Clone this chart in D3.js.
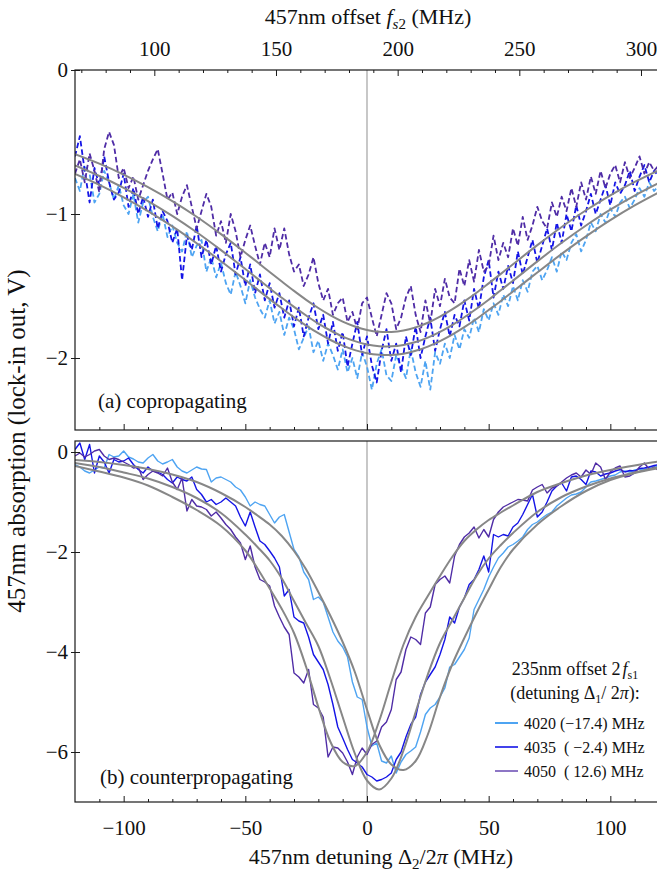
<!DOCTYPE html>
<html>
<head>
<meta charset="utf-8">
<script src="https://cdn.jsdelivr.net/npm/d3@7"></script>
<style>
  body { margin: 0; background: #fff; }
  svg { display: block; font-family: "Liberation Serif", "Times New Roman", serif; }
</style>
</head>
<body>
<svg id="chart" width="657" height="871"></svg>
<script>
// ---- data -------------------------------------------------------------
// detuning grid of the lock-in scans (MHz), -120 ... 120 in 2 MHz steps
const detuning = d3.range(-120, 121, 2);

// (a) copropagating scans, lock-in output (V)
const coproLight = [
  -0.75,-0.84,-0.66,-0.72,-0.92,-0.86,-0.7,-0.78,-0.9,-0.8,
  -0.94,-1.0,-0.86,-1.06,-0.92,-0.88,-1.02,-1.12,-1.0,-1.16,
  -1.08,-1.2,-1.26,-1.12,-1.3,-1.22,-1.18,-1.4,-1.3,-1.44,
  -1.34,-1.48,-1.56,-1.4,-1.5,-1.62,-1.46,-1.58,-1.66,-1.72,
  -1.6,-1.76,-1.68,-1.84,-1.72,-1.8,-1.94,-1.86,-1.78,-1.96,
  -1.88,-2.02,-1.9,-1.98,-2.08,-1.94,-2.1,-2.0,-2.14,-1.96,
  -2.06,-2.22,-2.04,-1.94,-2.12,-2.16,-1.98,-2.06,-2.14,-1.94,
  -2.1,-2.2,-2.02,-2.22,-1.96,-2.04,-1.9,-2.0,-1.84,-1.94,
  -1.8,-1.86,-1.72,-1.82,-1.66,-1.74,-1.62,-1.7,-1.56,-1.64,
  -1.5,-1.6,-1.46,-1.54,-1.4,-1.36,-1.46,-1.39,-1.3,-1.4,
  -1.26,-1.32,-1.2,-1.14,-1.26,-1.18,-1.06,-1.12,-1.0,-1.06,
  -0.96,-1.02,-0.92,-0.88,-0.96,-0.9,-0.82,-0.88,-0.78,-0.84,
  -0.8
];
const coproBlue = [
  -0.6,-0.46,-0.7,-0.92,-0.68,-0.8,-0.6,-0.78,-0.9,-0.85,
  -0.72,-0.95,-0.82,-1.0,-0.88,-1.02,-0.9,-1.1,-0.98,-1.05,
  -1.2,-1.1,-1.46,-1.15,-1.25,-1.08,-1.3,-1.18,-1.35,-1.22,
  -1.4,-1.28,-1.2,-1.42,-1.3,-1.5,-1.35,-1.55,-1.42,-1.6,
  -1.48,-1.65,-1.55,-1.72,-1.6,-1.78,-1.65,-1.85,-1.72,-1.62,
  -1.8,-1.7,-1.9,-1.75,-1.95,-1.82,-2.06,-1.9,-1.75,-1.98,
  -1.85,-2.05,-2.17,-1.95,-1.8,-2.02,-1.9,-2.1,-1.85,-1.98,
  -1.78,-2.0,-1.85,-1.72,-1.95,-1.8,-1.68,-1.85,-1.7,-1.78,
  -1.6,-1.74,-1.52,-1.66,-1.44,-1.32,-1.58,-1.4,-1.52,-1.36,
  -1.48,-1.26,-1.42,-1.3,-1.18,-1.34,-1.22,-1.1,-1.25,-1.06,
  -1.2,-1.0,-1.12,-0.94,-1.08,-0.98,-0.86,-1.0,-0.9,-0.8,
  -0.94,-0.78,-0.86,-0.8,-0.7,-0.84,-0.74,-0.66,-0.78,-0.7,
  -0.74
];
const coproPurple = [
  -0.72,-0.62,-0.78,-0.58,-0.7,-0.85,-0.55,-0.43,-0.52,-0.75,
  -0.68,-0.82,-0.74,-0.9,-0.8,-0.7,-0.62,-0.55,-0.72,-0.9,
  -0.85,-1.0,-0.88,-0.8,-0.95,-1.1,-0.98,-0.86,-0.95,-1.15,
  -1.05,-1.2,-1.0,-1.12,-1.3,-1.18,-1.08,-1.22,-1.35,-1.2,
  -1.3,-1.1,-1.25,-1.1,-1.28,-1.4,-1.35,-1.5,-1.42,-1.3,
  -1.48,-1.6,-1.52,-1.7,-1.62,-1.58,-1.75,-1.68,-1.8,-1.62,
  -1.58,-1.72,-1.85,-1.7,-1.55,-1.62,-1.8,-1.72,-1.58,-1.5,
  -1.7,-1.82,-1.6,-1.76,-1.52,-1.64,-1.45,-1.58,-1.62,-1.38,
  -1.5,-1.32,-1.47,-1.25,-1.4,-1.36,-1.15,-1.32,-1.2,-1.3,
  -1.1,-1.22,-1.02,-1.18,-1.08,-0.95,-1.05,-1.1,-0.92,-1.02,
  -0.88,-0.98,-0.82,-0.95,-0.78,-0.9,-0.74,-0.86,-0.7,-0.82,
  -0.72,-0.66,-0.78,-0.64,-0.75,-0.68,-0.6,-0.72,-0.64,-0.7,
  -0.66
];

// (b) counterpropagating scans, lock-in output (V)
const counterLight = [
  -0.25,-0.3,-0.38,-0.42,-0.36,-0.3,-0.32,-0.05,-0.1,-0.08,
  0.02,-0.1,-0.14,-0.2,-0.22,-0.12,-0.05,-0.18,-0.24,-0.2,
  -0.15,-0.3,-0.38,-0.42,-0.36,-0.3,-0.34,-0.35,-0.6,-0.52,
  -0.5,-0.55,-0.6,-0.7,-0.76,-0.9,-1.08,-1.0,-1.05,-1.08,
  -1.25,-1.42,-1.3,-1.25,-1.6,-1.95,-2.1,-2.4,-2.55,-2.95,
  -2.9,-3.0,-3.3,-3.6,-3.78,-3.9,-4.1,-4.6,-4.9,-4.95,
  -5.5,-5.88,-5.82,-6.18,-6.22,-6.08,-6.42,-6.2,-6.05,-5.98,
  -5.9,-5.6,-5.25,-5.12,-5.05,-4.9,-4.72,-4.3,-4.25,-4.1,
  -3.95,-3.72,-3.15,-2.95,-2.75,-2.5,-2.3,-2.12,-2.02,-1.9,
  -1.85,-1.78,-1.7,-1.55,-1.45,-1.4,-1.32,-1.25,-1.2,-1.08,
  -1.0,-0.92,-0.86,-0.84,-0.8,-0.7,-0.6,-0.58,-0.55,-0.52,
  -0.48,-0.46,-0.4,-0.38,-0.4,-0.36,-0.34,-0.35,-0.3,-0.3,
  -0.28
];
const counterBlue = [
  0.05,0.18,-0.15,0.15,-0.42,-0.08,-0.2,-0.42,-0.15,-0.2,
  -0.18,-0.12,-0.25,-0.35,-0.42,-0.3,-0.38,-0.4,-0.45,-0.55,
  -0.62,-0.5,-0.55,-0.58,-0.5,-0.75,-0.85,-1.0,-0.95,-1.05,
  -1.0,-0.92,-1.0,-1.08,-1.3,-1.48,-1.2,-1.5,-1.78,-1.85,
  -1.98,-2.12,-2.3,-2.88,-2.75,-3.3,-3.38,-3.42,-3.7,-4.05,
  -4.2,-4.35,-4.65,-5.05,-5.5,-5.72,-5.95,-6.15,-6.22,-6.3,
  -6.45,-6.5,-6.58,-6.55,-6.5,-6.42,-6.15,-6.0,-5.7,-5.45,
  -5.3,-4.85,-4.6,-4.45,-4.3,-4.05,-3.75,-3.3,-3.42,-3.1,
  -2.92,-2.65,-2.55,-2.35,-2.08,-2.4,-1.65,-1.7,-1.65,-1.68,
  -1.5,-1.42,-1.25,-1.05,-0.85,-1.3,-1.2,-1.0,-0.78,-0.68,
  -0.62,-0.78,-0.5,-0.48,-0.55,-0.65,-0.38,-0.4,-0.48,-0.44,
  -0.42,-0.38,-0.35,-0.4,-0.37,-0.38,-0.33,-0.32,-0.3,-0.27,
  -0.25
];
const counterPurple = [
  -0.08,-0.02,-0.1,-0.05,0.02,0.05,-0.08,-0.15,-0.12,-0.15,
  -0.2,-0.25,-0.32,-0.3,-0.55,-0.45,-0.38,-0.42,-0.48,-0.32,
  -0.6,-0.75,-0.52,-1.18,-0.95,-1.08,-1.1,-1.15,-1.28,-1.2,
  -1.32,-1.45,-1.55,-1.7,-1.82,-2.15,-1.88,-2.3,-2.55,-2.6,
  -2.68,-3.08,-3.3,-3.5,-3.65,-4.42,-4.5,-4.62,-4.35,-5.05,
  -5.12,-5.3,-6.1,-5.9,-5.92,-6.02,-6.2,-6.45,-6.1,-5.92,
  -6.05,-5.85,-5.78,-5.5,-5.4,-5.15,-4.55,-4.4,-3.95,-3.7,
  -3.75,-3.85,-3.22,-3.1,-2.65,-2.55,-2.48,-2.62,-2.08,-1.85,
  -1.7,-1.62,-1.5,-1.72,-1.55,-1.7,-1.35,-1.2,-1.1,-1.05,
  -1.0,-0.95,-0.96,-0.98,-0.76,-0.7,-0.65,-0.82,-0.72,-0.68,
  -0.6,-0.52,-0.46,-0.42,-0.5,-0.36,-0.45,-0.22,-0.3,-0.55,
  -0.4,-0.32,-0.28,-0.5,-0.48,-0.42,-0.3,-0.22,-0.35,-0.3,
  -0.38
];

// fitted line shapes, tabulated on a coarser detuning grid (MHz)
const fitDetuning = [-120,-110,-100,-90,-80,-70,-60,-50,-45,-40,-35,-30,-25,-20,-15,-10,-5,0,
                     5,10,15,20,25,30,35,40,45,50,55,60,70,80,90,100,110,120];
const coproFitUpper = [-0.584,-0.650,-0.726,-0.813,-0.910,-1.019,-1.140,-1.269,-1.335,-1.403,-1.469,-1.534,
  -1.596,-1.653,-1.704,-1.747,-1.781,-1.805,-1.818,-1.819,-1.809,-1.787,-1.755,-1.713,-1.663,-1.607,
  -1.547,-1.482,-1.416,-1.349,-1.216,-1.090,-0.974,-0.870,-0.777,-0.695];
const coproFitMiddle = [-0.663,-0.736,-0.818,-0.910,-1.013,-1.127,-1.251,-1.382,-1.449,-1.516,-1.582,-1.645,
  -1.705,-1.761,-1.809,-1.851,-1.883,-1.906,-1.918,-1.919,-1.909,-1.889,-1.858,-1.818,-1.771,-1.717,
  -1.658,-1.595,-1.529,-1.463,-1.329,-1.200,-1.080,-0.970,-0.872,-0.784];
const coproFitLower = [-0.722,-0.798,-0.884,-0.980,-1.086,-1.203,-1.328,-1.458,-1.525,-1.591,-1.655,-1.717,
  -1.775,-1.828,-1.875,-1.914,-1.945,-1.967,-1.978,-1.979,-1.970,-1.950,-1.921,-1.883,-1.838,-1.786,
  -1.729,-1.667,-1.604,-1.538,-1.406,-1.277,-1.155,-1.042,-0.940,-0.849];
const counterFitLight = [-0.16,-0.2,-0.26,-0.34,-0.45,-0.6,-0.82,-1.1,-1.27,-1.45,-1.68,-1.98,-2.35,-2.8,
  -3.28,-3.8,-4.4,-5.15,-5.85,-6.25,-6.36,-6.18,-5.65,-4.9,-4.25,-3.72,-3.22,-2.75,-2.3,-1.95,
  -1.45,-1.08,-0.78,-0.56,-0.42,-0.32];
const counterFitBlue = [-0.22,-0.3,-0.41,-0.53,-0.7,-0.92,-1.22,-1.65,-1.9,-2.17,-2.53,-2.98,-3.43,-3.88,
  -4.55,-5.3,-6.03,-6.57,-6.75,-6.53,-5.97,-5.2,-4.45,-3.82,-3.37,-2.92,-2.48,-2.13,-1.86,-1.62,
  -1.2,-0.9,-0.69,-0.53,-0.41,-0.3];
const counterFitPurple = [-0.28,-0.39,-0.51,-0.67,-0.9,-1.16,-1.48,-1.97,-2.33,-2.73,-3.14,-3.62,-4.3,-5.1,
  -5.8,-6.2,-6.28,-6.0,-5.38,-4.6,-3.85,-3.3,-2.88,-2.48,-2.1,-1.78,-1.55,-1.36,-1.21,-1.07,
  -0.8,-0.62,-0.47,-0.36,-0.27,-0.19];

// axis ticks
const detuningTicks = [-100, -50, 0, 50, 100];
const detuningMinor = [-110,-90,-80,-70,-60,-40,-30,-20,-10,10,20,30,40,60,70,80,90,110];
const offsetTicks = [100, 150, 200, 250, 300];
const offsetMinor = [70,80,90,110,120,130,140,160,170,180,190,210,220,230,240,260,270,280,290];
const coproTicks = [0, -1, -2];
const counterTicks = [0, -2, -4, -6];
const offsetAtZero = 187.4;   // 457nm offset f_s2 (MHz) at zero detuning

// legend
const legendCodes = ["4020", "4035", "4050"];
const legendDetunings = ["(\u221217.4)", "( \u22122.4)", "( 12.6)"];

// ---- styles -----------------------------------------------------------
const colLight = "#4ea4f2", colBlue = "#1414e6", colPurple = "#4f2ca6";
const colFit = "#878787", colZero = "#9a9a9a", colFrame = "#1a1a1a";
const serif = '"Liberation Serif", "Times New Roman", serif';

// ---- layout & scales --------------------------------------------------
const svg = d3.select("#chart");
const L = 75, R = 659;
const x = d3.scaleLinear().domain([-120, 120]).range([L, R]);
const xOffset = d3.scaleLinear().domain([-120 + offsetAtZero, 120 + offsetAtZero]).range([L, R]);
const yCo = d3.scaleLinear().domain([-2.5, 0]).range([430, 70]);
const yCounter = d3.scaleLinear().domain([-7, 0.22]).range([802, 441]);

function styleAxis(g, size) {
  g.select(".domain").remove();
  g.attr("font-family", serif).attr("font-size", size);
  g.selectAll("line").attr("stroke", colFrame).attr("stroke-width", 1);
  g.selectAll("text").attr("fill", "#111");
}

function drawPanel(id, y, series, fits, dashed) {
  const [bottom, top] = y.range();
  const g = svg.append("g");
  svg.append("clipPath").attr("id", id).append("rect")
    .attr("x", L).attr("y", top).attr("width", R - L).attr("height", bottom - top);
  const body = g.append("g").attr("clip-path", `url(#${id})`);

  body.append("line")
    .attr("x1", x(0)).attr("x2", x(0)).attr("y1", top).attr("y2", bottom)
    .attr("stroke", colZero).attr("stroke-width", 1.1);

  const dataLine = d3.line().x((d, i) => x(detuning[i])).y(d => y(d));
  series.forEach(s => {
    body.append("path").datum(s.values)
      .attr("d", dataLine)
      .attr("fill", "none")
      .attr("stroke", s.color)
      .attr("stroke-width", dashed ? 1.8 : 1.4)
      .attr("stroke-dasharray", dashed ? "5.5,3" : null)
      .attr("stroke-linejoin", "round");
  });

  const fitLine = d3.line().x((d, i) => x(fitDetuning[i])).y(d => y(d))
    .curve(d3.curveCatmullRom.alpha(0.5));
  fits.forEach(f => {
    body.append("path").datum(f)
      .attr("d", fitLine)
      .attr("fill", "none")
      .attr("stroke", colFit)
      .attr("stroke-width", 2);
  });

  g.append("rect")
    .attr("x", L).attr("y", top).attr("width", R - L).attr("height", bottom - top)
    .attr("fill", "none").attr("stroke", colFrame).attr("stroke-width", 1.2);
  return g;
}

// (a) copropagating
drawPanel("clipA", yCo, [
  { values: coproLight, color: colLight },
  { values: coproBlue, color: colBlue },
  { values: coproPurple, color: colPurple }
], [coproFitUpper, coproFitMiddle, coproFitLower], true);

// (b) counterpropagating
drawPanel("clipB", yCounter, [
  { values: counterLight, color: colLight },
  { values: counterBlue, color: colBlue },
  { values: counterPurple, color: colPurple }
], [counterFitLight, counterFitBlue, counterFitPurple], false);

// ---- axes -------------------------------------------------------------
const fmt = d3.format("d");

// top: 457nm offset scale
svg.append("g").attr("transform", "translate(0,70)")
  .call(d3.axisTop(xOffset).tickValues(offsetTicks).tickSizeInner(-6).tickSizeOuter(0)
    .tickPadding(14).tickFormat(fmt))
  .call(g => styleAxis(g, 21));
svg.append("g").attr("transform", "translate(0,70)")
  .call(d3.axisTop(xOffset).tickValues(offsetMinor).tickSizeInner(-3).tickSizeOuter(0).tickFormat(""))
  .call(g => styleAxis(g, 21));

// bottom edge of panel (a): ticks only
svg.append("g").attr("transform", "translate(0,430)")
  .call(d3.axisBottom(x).tickValues(detuningTicks).tickSizeInner(-6).tickSizeOuter(0).tickFormat(""))
  .call(g => styleAxis(g, 21));
svg.append("g").attr("transform", "translate(0,430)")
  .call(d3.axisBottom(x).tickValues(detuningMinor).tickSizeInner(-3).tickSizeOuter(0).tickFormat(""))
  .call(g => styleAxis(g, 21));

// bottom: detuning scale
svg.append("g").attr("transform", "translate(0,802)")
  .call(d3.axisBottom(x).tickValues(detuningTicks).tickSizeInner(-6).tickSizeOuter(0)
    .tickPadding(18).tickFormat(fmt))
  .call(g => styleAxis(g, 21));
svg.append("g").attr("transform", "translate(0,802)")
  .call(d3.axisBottom(x).tickValues(detuningMinor).tickSizeInner(-3).tickSizeOuter(0).tickFormat(""))
  .call(g => styleAxis(g, 21));

// left axes
[[yCo, coproTicks], [yCounter, counterTicks]].forEach(([y, ticks]) => {
  svg.append("g").attr("transform", `translate(${L},0)`)
    .call(d3.axisLeft(y).tickValues(ticks).tickSizeInner(4).tickSizeOuter(0).tickPadding(3).tickFormat(fmt))
    .call(g => styleAxis(g, 21));
  svg.append("g").attr("transform", `translate(${L},0)`)
    .call(d3.axisLeft(y).tickValues(ticks).tickSizeInner(-5).tickSizeOuter(0).tickFormat(""))
    .call(g => styleAxis(g, 21));
});

// ---- titles -----------------------------------------------------------
const topTitle = svg.append("text").attr("x", 368).attr("y", 24)
  .attr("text-anchor", "middle").attr("font-size", 22).attr("fill", "#111");
topTitle.append("tspan").text("457nm offset ");
topTitle.append("tspan").attr("font-style", "italic").text("f");
topTitle.append("tspan").attr("font-size", 15).attr("dy", 5).attr("font-style", "italic").text("s");
topTitle.append("tspan").attr("font-size", 15).text("2");
topTitle.append("tspan").attr("dy", -5).text(" (MHz)");

const bottomTitle = svg.append("text").attr("x", 381).attr("y", 864)
  .attr("text-anchor", "middle").attr("font-size", 22).attr("fill", "#111");
bottomTitle.append("tspan").text("457nm detuning \u0394");
bottomTitle.append("tspan").attr("font-size", 15).attr("dy", 5).text("2");
bottomTitle.append("tspan").attr("dy", -5).text("/2");
bottomTitle.append("tspan").attr("font-style", "italic").text("\u03c0");
bottomTitle.append("tspan").text(" (MHz)");

svg.append("text")
  .attr("transform", "translate(25,441) rotate(-90)")
  .attr("text-anchor", "middle").attr("font-size", 25).attr("fill", "#111")
  .text("457nm absorption (lock-in out, V)");

svg.append("text").attr("x", 98).attr("y", 408).attr("font-size", 21).attr("fill", "#111")
  .text("(a) copropagating");
svg.append("text").attr("x", 100).attr("y", 784).attr("font-size", 21).attr("fill", "#111")
  .text("(b) counterpropagating");

// ---- legend -----------------------------------------------------------
const lt1 = svg.append("text").attr("x", 575).attr("y", 675)
  .attr("text-anchor", "middle").attr("font-size", 18).attr("fill", "#111");
lt1.append("tspan").text("235nm offset 2");
lt1.append("tspan").attr("font-style", "italic").attr("dx", 2).text("f");
lt1.append("tspan").attr("font-size", 12).attr("dy", 4).text("s1");

const lt2 = svg.append("text").attr("x", 575).attr("y", 699)
  .attr("text-anchor", "middle").attr("font-size", 18).attr("fill", "#111");
lt2.append("tspan").text("(detuning \u0394");
lt2.append("tspan").attr("font-size", 12).attr("dy", 4).text("1");
lt2.append("tspan").attr("dy", -4).text("/ 2");
lt2.append("tspan").attr("font-style", "italic").text("\u03c0");
lt2.append("tspan").text("):");

const legendColors = [colLight, colBlue, colPurple];
const legendWidths = [2, 1.6, 1.3];
legendCodes.forEach((code, i) => {
  const yy = 723 + i * 24;
  svg.append("line").attr("x1", 495).attr("x2", 518).attr("y1", yy).attr("y2", yy)
    .attr("stroke", legendColors[i]).attr("stroke-width", legendWidths[i]);
  svg.append("text").attr("x", 524).attr("y", yy + 5.5)
    .attr("font-size", 16).attr("fill", "#111")
    .attr("xml:space", "preserve").style("white-space", "pre")
    .text(`${code}${i === 0 ? " " : "  "}${legendDetunings[i]} MHz`);
});
</script>
</body>
</html>
